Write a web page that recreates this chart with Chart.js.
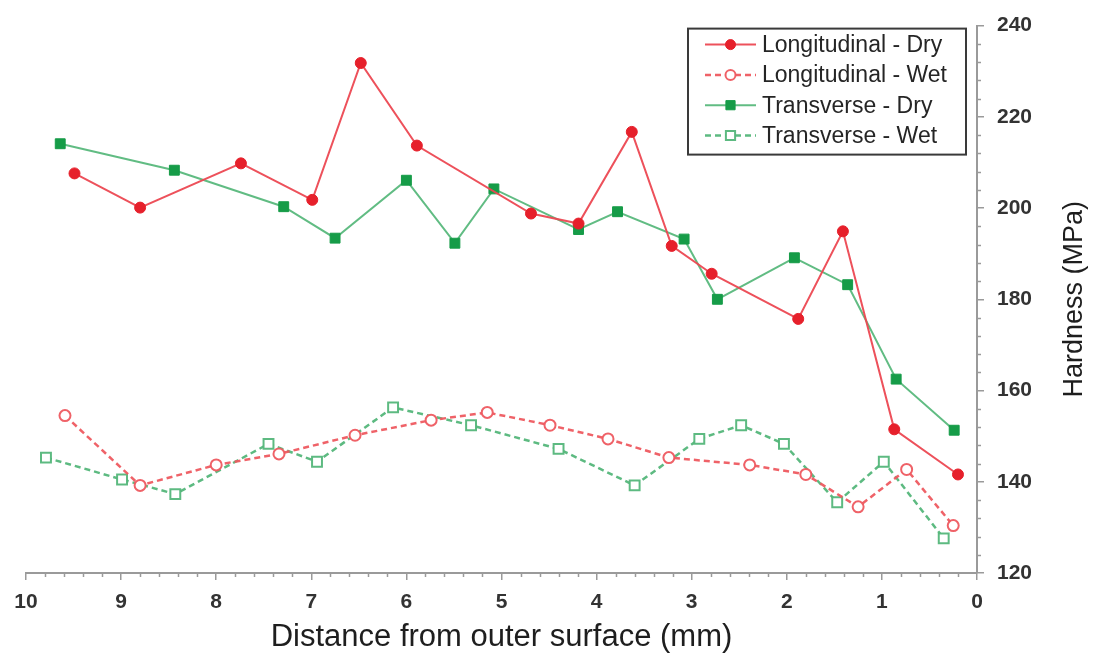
<!DOCTYPE html>
<html>
<head>
<meta charset="utf-8">
<script src="https://cdn.jsdelivr.net/npm/chart.js@4/dist/chart.umd.min.js"></script>
<style>
  html, body { margin: 0; padding: 0; background: #fff; }
  #wrap { width: 1097px; height: 659px; position: relative; }
</style>
</head>
<body>
<div id="wrap"><canvas id="c"></canvas></div>
<script>
// Hardness profiles across the wall: distance from outer surface (mm) vs hardness (MPa)
const seriesLabels = ['Longitudinal - Dry', 'Longitudinal - Wet', 'Transverse - Dry', 'Transverse - Wet'];

const longDryX = [9.49, 8.80, 7.74, 6.99, 6.48, 5.89, 4.69, 4.19, 3.63, 3.21, 2.79, 1.88, 1.41, 0.87, 0.20];
const longDryY = [207.6, 200.1, 209.8, 201.8, 231.8, 213.7, 198.8, 196.6, 216.7, 191.7, 185.6, 175.7, 194.9, 151.5, 141.6];

const longWetX = [9.59, 8.80, 8.00, 7.34, 6.54, 5.74, 5.15, 4.49, 3.88, 3.24, 2.39, 1.80, 1.25, 0.74, 0.25];
const longWetY = [154.5, 139.2, 143.7, 146.1, 150.2, 153.5, 155.2, 152.4, 149.4, 145.3, 143.7, 141.6, 134.5, 142.7, 130.4];

const transDryX = [9.64, 8.44, 7.29, 6.75, 6.00, 5.49, 5.08, 4.19, 3.78, 3.08, 2.73, 1.92, 1.36, 0.85, 0.24];
const transDryY = [214.1, 208.3, 200.3, 193.4, 206.1, 192.3, 204.2, 195.3, 199.2, 193.2, 180.0, 189.1, 183.2, 162.5, 151.3];

const transWetX = [9.79, 8.99, 8.43, 7.45, 6.94, 6.14, 5.32, 4.40, 3.60, 2.92, 2.48, 2.03, 1.47, 0.98, 0.35];
const transWetY = [145.3, 140.5, 137.3, 148.3, 144.4, 156.3, 152.4, 147.2, 139.2, 149.4, 152.4, 148.3, 135.5, 144.4, 127.6];

const xTicks = [0, 1, 2, 3, 4, 5, 6, 7, 8, 9, 10];
const yTicks = [120, 140, 160, 180, 200, 220, 240];

const xTitle = 'Distance from outer surface (mm)';
const yTitle = 'Hardness (MPa)';

const pts = (xs, ys) => xs.map((x, i) => ({ x, y: ys[i] }));

const RED_LINE = 'rgba(236,72,82,0.95)';
const RED_MARK = '#e6202b';
const RED_WET = 'rgba(238,90,96,0.95)';
const GREEN_LINE = 'rgba(88,184,124,0.95)';
const GREEN_MARK = '#169c48';
const GREEN_WET = 'rgba(84,182,122,0.95)';

const datasets = [
  {
    label: seriesLabels[0], data: pts(longDryX, longDryY),
    borderColor: RED_LINE, borderWidth: 2, pointStyle: 'circle', pointRadius: 5.5,
    pointBackgroundColor: RED_MARK, pointBorderColor: RED_MARK, pointBorderWidth: 1
  },
  {
    label: seriesLabels[1], data: pts(longWetX, longWetY),
    borderColor: RED_WET, borderWidth: 2.5, borderDash: [6, 4], pointStyle: 'circle', pointRadius: 5.5,
    pointBackgroundColor: '#fff', pointBorderColor: RED_WET, pointBorderWidth: 2
  },
  {
    label: seriesLabels[2], data: pts(transDryX, transDryY),
    borderColor: GREEN_LINE, borderWidth: 2, pointStyle: 'rect', pointRadius: 7,
    pointBackgroundColor: GREEN_MARK, pointBorderColor: GREEN_MARK, pointBorderWidth: 1
  },
  {
    label: seriesLabels[3], data: pts(transWetX, transWetY),
    borderColor: GREEN_WET, borderWidth: 2.5, borderDash: [6, 4], pointStyle: 'rect', pointRadius: 7,
    pointBackgroundColor: '#fff', pointBorderColor: GREEN_WET, pointBorderWidth: 2
  }
];
datasets.forEach(d => { d.tension = 0; d.fill = false; d.showLine = true; });

const AXIS_GRAY = '#9a9a9a';
const TICK_FONT = { family: 'Liberation Sans', size: 21, weight: 'bold' };

// Short minor ticks between the labelled ticks on both axes
const minorTicks = {
  id: 'minorTicks',
  afterDraw(chart) {
    const { ctx } = chart;
    const xs = chart.scales.x, ys = chart.scales.y;
    ctx.save();
    ctx.strokeStyle = AXIS_GRAY;
    ctx.lineWidth = 1.5;
    ctx.beginPath();
    for (let i = 0; i <= 50; i++) {
      if (i % 5 === 0) continue;
      const px = Math.round(xs.getPixelForValue(i / 5)) + 0.5;
      ctx.moveTo(px, xs.top);
      ctx.lineTo(px, xs.top + 4);
    }
    for (let v = 120; v <= 240; v += 4) {
      if (v % 20 === 0) continue;
      const py = Math.round(ys.getPixelForValue(v)) + 0.5;
      ctx.moveTo(ys.left, py);
      ctx.lineTo(ys.left + 4, py);
    }
    ctx.stroke();
    ctx.restore();
  }
};

// Vertical axis title reading bottom-to-top on the right side
const rightTitle = {
  id: 'rightTitle',
  afterDraw(chart) {
    const { ctx, chartArea } = chart;
    const ys = chart.scales.y;
    ctx.save();
    ctx.translate(ys.right - 22, (chartArea.top + chartArea.bottom) / 2);
    ctx.rotate(-Math.PI / 2);
    ctx.font = '27px "Liberation Sans", Arial, sans-serif';
    ctx.fillStyle = '#1e1e1e';
    ctx.textAlign = 'center';
    ctx.textBaseline = 'middle';
    ctx.fillText(yTitle, 0, 0);
    ctx.restore();
  }
};

// Boxed legend in the upper right of the plot, with line and marker samples
const boxLegend = {
  id: 'boxLegend',
  afterDraw(chart) {
    const { ctx, chartArea } = chart;
    const right = chartArea.right - 11;
    const left = right - 278;
    const top = chartArea.top + 3;
    const rowH = 30.3;
    const height = 126;
    ctx.save();
    ctx.fillStyle = '#fff';
    ctx.fillRect(left, top, right - left, height);
    ctx.strokeStyle = '#3a3a3a';
    ctx.lineWidth = 2;
    ctx.strokeRect(left, top, right - left, height);
    chart.data.datasets.forEach((d, i) => {
      const cy = top + 16 + i * rowH;
      const x0 = left + 17, x1 = left + 68, xm = (x0 + x1) / 2;
      ctx.save();
      ctx.strokeStyle = d.borderColor;
      ctx.lineWidth = d.borderWidth;
      ctx.setLineDash(d.borderDash || []);
      ctx.beginPath();
      ctx.moveTo(x0, cy);
      ctx.lineTo(x1, cy);
      ctx.stroke();
      ctx.restore();
      ctx.save();
      ctx.fillStyle = d.pointBackgroundColor;
      ctx.strokeStyle = d.pointBorderColor;
      ctx.lineWidth = d.pointBorderWidth;
      Chart.helpers.drawPoint(ctx, {
        pointStyle: d.pointStyle, rotation: 0,
        radius: d.pointStyle === 'rect' ? 6.5 : 5, borderWidth: d.pointBorderWidth
      }, xm, cy);
      ctx.restore();
      ctx.fillStyle = '#252525';
      ctx.font = '23px "Liberation Sans", Arial, sans-serif';
      ctx.textAlign = 'left';
      ctx.textBaseline = 'middle';
      ctx.fillText(d.label, left + 74, cy + 1);
    });
    ctx.restore();
  }
};

new Chart(document.getElementById('c'), {
  type: 'scatter',
  data: { datasets },
  plugins: [minorTicks, rightTitle, boxLegend],
  options: {
    responsive: true,
    maintainAspectRatio: false,
    animation: false,
    layout: { padding: { left: 26, top: 17, right: 0, bottom: 0 } },
    plugins: { legend: { display: false }, tooltip: { enabled: false } },
    scales: {
      x: {
        type: 'linear', position: 'bottom', reverse: true, min: 0, max: 10,
        afterBuildTicks: s => { s.ticks = xTicks.map(v => ({ value: v })); },
        afterFit: s => { s.height = 86; },
        grid: { display: true, drawOnChartArea: false, drawTicks: true, tickLength: 7, color: AXIS_GRAY, lineWidth: 1.5 },
        border: { display: true, color: AXIS_GRAY, width: 2 },
        ticks: { font: TICK_FONT, color: '#333', padding: 10, maxRotation: 0, autoSkip: false },
        title: { display: true, text: xTitle, color: '#1e1e1e',
                 font: { family: 'Liberation Sans', size: 31 }, padding: { top: 0, bottom: 3 } }
      },
      y: {
        type: 'linear', position: 'right', min: 120, max: 240,
        afterBuildTicks: s => { s.ticks = yTicks.map(v => ({ value: v })); },
        afterFit: s => { s.width = 120; },
        grid: { display: true, drawOnChartArea: false, drawTicks: true, tickLength: 7, color: AXIS_GRAY, lineWidth: 1.5 },
        border: { display: true, color: AXIS_GRAY, width: 2 },
        ticks: { font: TICK_FONT, color: '#333', padding: 13 },
        title: { display: false }
      }
    }
  }
});
</script>
</body>
</html>
